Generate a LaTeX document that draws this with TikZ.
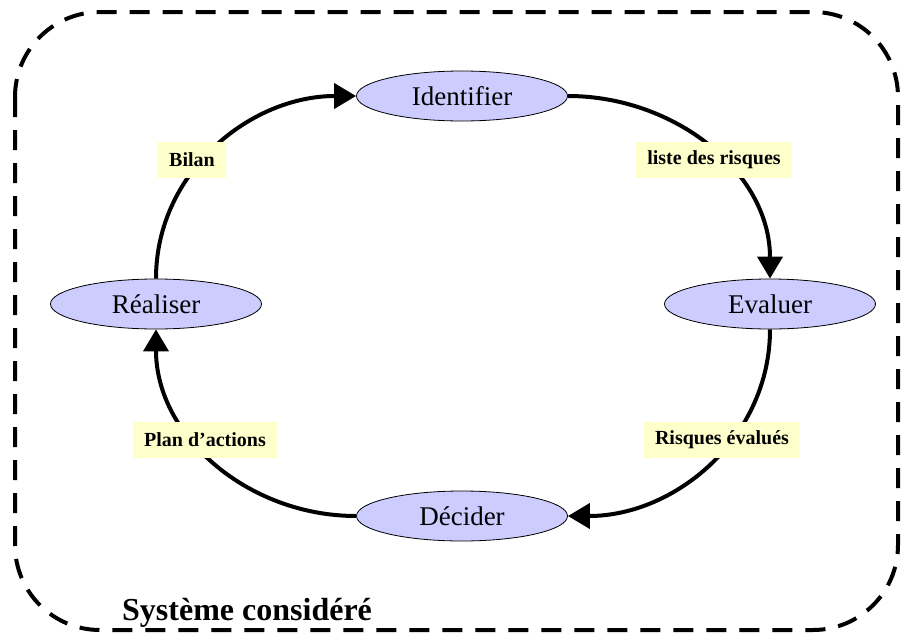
\documentclass[tikz,border=0pt]{standalone}
\usepackage{fontspec}
\setmainfont{Liberation Serif}
\usetikzlibrary{arrows.meta,shapes.geometric}
\tikzset{
  etape/.style={ellipse, draw=black, line width=0.8pt, fill={rgb,255:red,204;green,204;blue,255},
    minimum width=211pt, minimum height=50pt, inner sep=0pt, font=\fontsize{27}{29}\selectfont},
  etiquette/.style={fill={rgb,255:red,255;green,255;blue,204}, inner xsep=11pt, inner ysep=0pt,
    minimum height=36pt, font=\bfseries\fontsize{20}{22}\selectfont},
  fleche/.style={line width=4pt, -{Triangle[length=22pt,width=25pt]}},
  cadre/.style={line width=4pt, dash pattern=on 20pt off 13pt, rounded corners=85pt}
}
\begin{document}
\begin{tikzpicture}[x=1pt,y=-1pt]
\useasboundingbox (0,0) rectangle (911,637);
\draw[cadre] (15,12) rectangle (898,630);
\node[anchor=base west, font=\bfseries\fontsize{32}{34}\selectfont, inner sep=0pt] (sys) at (122,620) {Système considéré};
\node[etape] (id) at (462,96) {Identifier};
\node[etape] (ev) at (770,304) {Evaluer};
\node[etape] (re) at (156,304) {Réaliser};
\node[etape] (de) at (462,516) {Décider};
\draw[fleche] (re.north) to[out=90,in=180] (id.west);
\draw[fleche] (id.east) to[out=0,in=90] (ev.north);
\draw[fleche] (ev.south) to[out=-90,in=0] (de.east);
\draw[fleche] (de.west) to[out=180,in=-90] (re.south);
\node[etiquette] (l1) at (192,160) {Bilan};
\node[etiquette] (l2) at (714,160) {liste des risques};
\node[etiquette] (l3) at (722,440) {Risques évalués};
\node[etiquette] (l4) at (205,440) {Plan d'actions};
\end{tikzpicture}
\end{document}
